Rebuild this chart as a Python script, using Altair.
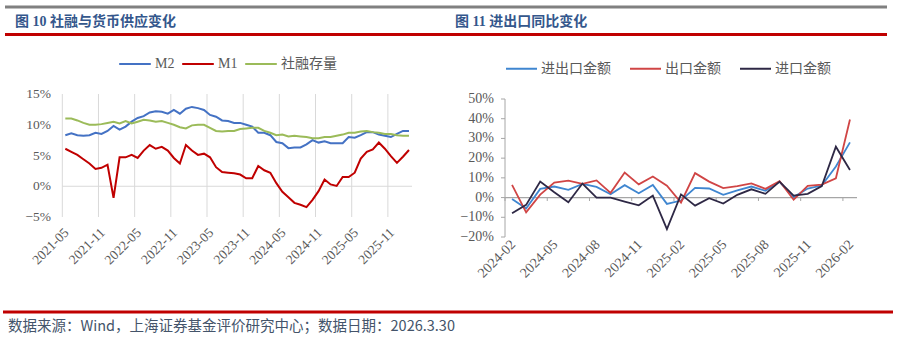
import altair as alt
import pandas as pd

# ---------------- data ----------------
left_months = pd.period_range("2021-05", "2026-02", freq="M").strftime("%Y-%m").tolist()
right_months = pd.period_range("2024-02", "2026-02", freq="M").strftime("%Y-%m").tolist()

m2 = [8.3, 8.6, 8.3, 8.2, 8.3, 8.7, 8.5, 9.0,
      9.8, 9.2, 9.7, 10.5, 11.1, 11.4, 12.0, 12.2, 12.1, 11.8, 12.4, 11.8,
      12.6, 12.9, 12.7, 12.4, 11.6, 11.3, 10.7, 10.6, 10.3, 10.3, 10.0, 9.7,
      8.7, 8.7, 8.3, 7.2, 7.0, 6.2, 6.3, 6.3, 6.8, 7.5, 7.1, 7.3,
      7.0, 7.0, 7.0, 8.0, 7.9, 8.3, 8.8, 8.8, 8.4, 8.2, 8.0, 8.5,
      9.0, 9.0]
m1 = [6.1, 5.6, 5.1, 4.4, 3.7, 2.8, 3.0, 3.5,
      -1.9, 4.7, 4.7, 5.1, 4.6, 5.8, 6.7, 6.1, 6.4, 5.8, 4.6, 3.7,
      6.7, 5.8, 5.1, 5.3, 4.7, 3.1, 2.3, 2.2, 2.1, 1.9, 1.3, 1.3,
      3.3, 2.6, 2.2, 0.5, -0.9, -1.8, -2.7, -3.0, -3.4, -2.2, -0.8, 1.1,
      0.3, 0.05, 1.5, 1.5, 2.2, 4.5, 5.6, 6.0, 7.1, 6.1, 4.9, 3.8,
      4.8, 5.9]
tsf = [11.0, 11.0, 10.7, 10.3, 10.0, 10.0, 10.1, 10.3,
       10.5, 10.2, 10.6, 10.2, 10.5, 10.8, 10.7, 10.5, 10.6, 10.3, 10.0, 9.6,
       9.4, 9.9, 10.0, 10.0, 9.5, 9.0, 8.9, 9.0, 9.0, 9.3, 9.4, 9.5,
       9.5, 9.0, 8.7, 8.3, 8.4, 8.1, 8.2, 8.1, 8.0, 7.8, 7.8, 8.0,
       8.0, 8.2, 8.4, 8.7, 8.7, 8.9, 9.0, 8.8, 8.7, 8.5, 8.5, 8.3,
       8.2, 8.2]
left_series = ["M2", "M1", "社融存量"]
left_colors = ["#4472C4", "#C00000", "#9BBB59"]

trade_total = [-0.7, -5.5, 4.4, 5.6, 3.9, 6.9, 5.4, 1.7, 6.3, 2.2, 6.4, -3.2, -1.5,
               4.9, 4.6, 1.4, 3.7, 5.6, 3.4, 8.0, 0.3, 4.6, 6.1, 15.8, 28.0]
exports = [6.4, -7.5, 1.5, 7.6, 8.6, 7.0, 8.7, 2.4, 12.7, 6.7, 10.7, 6.0, -2.5,
           12.4, 8.1, 4.8, 5.8, 7.2, 4.4, 8.3, -1.1, 5.9, 6.6, 9.8, 39.6]
imports = [-8.0, -3.7, 8.1, 2.7, -2.4, 7.1, 0.0, 0.0, -2.0, -3.9, 1.0, -16.0, 1.6,
           -4.1, -0.3, -3.0, 1.4, 4.2, 1.9, 8.1, 1.0, 1.9, 5.8, 25.8, 14.0]
right_series = ["进出口金额", "出口金额", "进口金额"]
right_colors = ["#3F86D0", "#D04545", "#2E2845"]

left_yticks = [-5, 0, 5, 10, 15]
left_ylabels = ["−5%", "0%", "5%", "10%", "15%"]
left_xlabels = ["2021-05", "2021-11", "2022-05", "2022-11", "2023-05",
                "2023-11", "2024-05", "2024-11", "2025-05", "2025-11"]
right_yticks = [-20, -10, 0, 10, 20, 30, 40, 50]
right_ylabels = ["−20%", "−10%", "0%", "10%", "20%", "30%", "40%", "50%"]
right_xlabels = ["2024-02", "2024-05", "2024-08", "2024-11", "2025-02",
                 "2025-05", "2025-08", "2025-11", "2026-02"]

title_left = "图 10 社融与货币供应变化"
title_right = "图 11  进出口同比变化"
source_note = "数据来源：Wind，上海证券基金评价研究中心；数据日期：2026.3.30"

# ---------------- tables ----------------
left_df = pd.DataFrame({
    "month": left_months * 3,
    "pos": [i + 0.5 for i in range(len(left_months))] * 3,
    "series": [s for s in left_series for _ in left_months],
    "value": m2 + m1 + tsf,
})
right_df = pd.DataFrame({
    "month": right_months * 3,
    "pos": [i + 0.5 for i in range(len(right_months))] * 3,
    "series": [s for s in right_series for _ in right_months],
    "value": trade_total + exports + imports,
})
lx_df = pd.DataFrame({"label": left_xlabels})
lx_df["tpos"] = [left_months.index(m) for m in left_xlabels]
lx_df["lpos"] = lx_df["tpos"] + 0.5
ly_df = pd.DataFrame({"v": left_yticks, "label": left_ylabels})
rx_df = pd.DataFrame({"label": right_xlabels})
rx_df["tpos"] = [right_months.index(m) for m in right_xlabels]
rx_df["lpos"] = rx_df["tpos"] + 0.5
ry_df = pd.DataFrame({"v": right_yticks, "label": right_ylabels})
zero_df = pd.DataFrame({"v": [0]})
one = pd.DataFrame({"k": [0]})

NUM_FONT = "Liberation Serif"
CJK_FONT = "Noto Sans CJK SC"
MIX_FONT = "Liberation Serif, Noto Sans CJK SC"
GRID = "#D9D9D9"
LABEL = "#595959"

# ---------------- left panel ----------------
XL = alt.Scale(domain=[0, len(left_months)], range=[62.3, 412], nice=False, zero=False)
YL = alt.Scale(domain=[-5, 15], range=[217, 94], nice=False, zero=False)

l_grid = alt.Chart(lx_df).mark_rule(color=GRID, strokeWidth=1).encode(
    x=alt.X("tpos:Q", scale=XL, axis=None),
    y=alt.value(94), y2=alt.value(217))
l_zero = alt.Chart(zero_df).mark_rule(color=GRID, strokeWidth=1.2).encode(
    y=alt.Y("v:Q", scale=YL, axis=None), x=alt.value(62.3), x2=alt.value(412))
l_ylab = alt.Chart(ly_df).mark_text(align="right", baseline="middle", font=NUM_FONT,
                                    fontSize=13.5, color=LABEL).encode(
    y=alt.Y("v:Q", scale=YL, axis=None), x=alt.value(51), text="label:N")
l_xlab = alt.Chart(lx_df).mark_text(align="right", baseline="middle", angle=315,
                                    font=NUM_FONT, fontSize=13.5, color=LABEL, dx=2).encode(
    x=alt.X("lpos:Q", scale=XL, axis=None), y=alt.value(232), text="label:N")
l_lines = alt.Chart(left_df).mark_line(strokeWidth=2).encode(
    x=alt.X("pos:Q", scale=XL, axis=None),
    y=alt.Y("value:Q", scale=YL, axis=None),
    color=alt.Color("series:N", sort=left_series,
                    scale=alt.Scale(domain=left_series, range=left_colors),
                    legend=alt.Legend(orient="none", legendX=118, legendY=47, direction="horizontal",
                                      title=None, symbolType="stroke", symbolSize=1000,
                                      symbolStrokeWidth=2, labelFont=MIX_FONT, labelFontSize=14,
                                      labelColor=LABEL, labelOffset=3, columnPadding=3,
                                      padding=0, labelLimit=200)))
left = alt.layer(l_grid, l_zero, l_ylab, l_xlab, l_lines)

# ---------------- right panel ----------------
XR = alt.Scale(domain=[0, len(right_months)], range=[505, 857], nice=False, zero=False)
YR = alt.Scale(domain=[-20, 50], range=[237, 99], nice=False, zero=False)
AX = "#A6A6A6"

r_yaxis = alt.Chart(one).mark_rule(color=AX, strokeWidth=1).encode(
    x=alt.value(505), y=alt.value(99), y2=alt.value(237))
r_yticks = alt.Chart(ry_df).mark_rule(color=AX, strokeWidth=1).encode(
    y=alt.Y("v:Q", scale=YR, axis=None), x=alt.value(501), x2=alt.value(505))
r_xaxis = alt.Chart(zero_df).mark_rule(color=AX, strokeWidth=1.2).encode(
    y=alt.Y("v:Q", scale=YR, axis=None), x=alt.value(505), x2=alt.value(857))
r_xticks = alt.Chart(rx_df).mark_rule(color=AX, strokeWidth=1).encode(
    x=alt.X("tpos:Q", scale=XR, axis=None), y=alt.value(197), y2=alt.value(201))
r_ylab = alt.Chart(ry_df).mark_text(align="right", baseline="middle", font=NUM_FONT,
                                    fontSize=14, color=LABEL).encode(
    y=alt.Y("v:Q", scale=YR, axis=None), x=alt.value(494), text="label:N")
r_xlab = alt.Chart(rx_df).mark_text(align="right", baseline="middle", angle=315,
                                    font=NUM_FONT, fontSize=14, color=LABEL, dx=2).encode(
    x=alt.X("lpos:Q", scale=XR, axis=None), y=alt.value(244), text="label:N")
r_lines = alt.Chart(right_df).mark_line(strokeWidth=1.8).encode(
    x=alt.X("pos:Q", scale=XR, axis=None),
    y=alt.Y("value:Q", scale=YR, axis=None),
    color=alt.Color("series:N", sort=right_series,
                    scale=alt.Scale(domain=right_series, range=right_colors),
                    legend=alt.Legend(orient="none", legendX=505, legendY=52, direction="horizontal",
                                      title=None, symbolType="stroke", symbolSize=961,
                                      symbolStrokeWidth=2, labelFont=CJK_FONT, labelFontSize=14,
                                      labelColor=LABEL, labelOffset=3, columnPadding=15,
                                      padding=0, labelLimit=200)))
right = alt.layer(r_yaxis, r_yticks, r_xaxis, r_xticks, r_ylab, r_xlab, r_lines)

# ---------------- header / footer ----------------
top_gray = alt.Chart(one).mark_rule(color="#808080", strokeWidth=3).encode(
    x=alt.value(5), x2=alt.value(887), y=alt.value(7))
top_red = alt.Chart(one).mark_rule(color="#C00000", strokeWidth=3).encode(
    x=alt.value(5), x2=alt.value(887), y=alt.value(34.5))
foot_red = alt.Chart(one).mark_rule(color="#C00000", strokeWidth=3).encode(
    x=alt.value(3), x2=alt.value(893), y=alt.value(312))
t_left = alt.Chart(one).mark_text(align="left", baseline="middle", font=MIX_FONT, fontSize=14,
                                  fontWeight="bold", color="#34578C").encode(
    x=alt.value(15), y=alt.value(22), text=alt.value(title_left))
t_right = alt.Chart(one).mark_text(align="left", baseline="middle", font=MIX_FONT, fontSize=14,
                                   fontWeight="bold", color="#34578C").encode(
    x=alt.value(455), y=alt.value(22), text=alt.value(title_right))
t_foot = alt.Chart(one).mark_text(align="left", baseline="middle", font=CJK_FONT, fontSize=14.5,
                                  color="#44546A").encode(
    x=alt.value(8), y=alt.value(327), text=alt.value(source_note))
deco = alt.layer(top_gray, top_red, foot_red, t_left, t_right, t_foot)

chart = alt.layer(left, right, deco).resolve_scale(
    x="independent", y="independent", color="independent"
).resolve_legend(color="independent").properties(
    width=897, height=351, padding=0, autosize=alt.AutoSizeParams(type="none"),
    background="white"
).configure_view(stroke=None)

chart.save("out.html", embed_options={"renderer": "svg", "actions": False})
